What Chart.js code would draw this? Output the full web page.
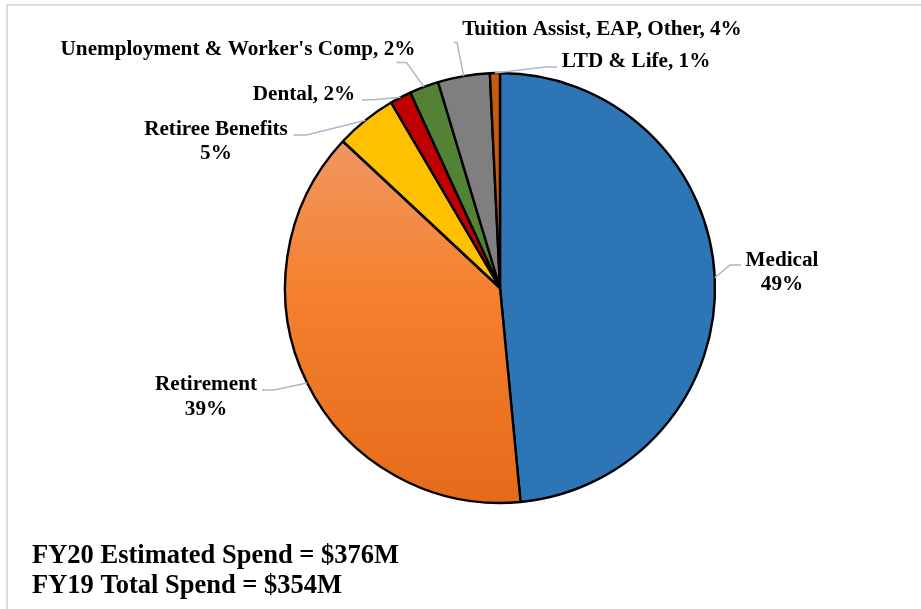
<!DOCTYPE html>
<html>
<head>
<meta charset="utf-8">
<script src="https://cdn.jsdelivr.net/npm/chart.js@4.4.1/dist/chart.umd.min.js"></script>
<style>
  html, body { margin: 0; padding: 0; background: #ffffff; }
  #wrap { position: relative; width: 921px; height: 609px; }
  canvas { display: block; }
</style>
</head>
<body>
<div id="wrap"><canvas id="c" width="921" height="609"></canvas></div>
<script>
// ---- data ----
const categories = ['Medical', 'Retirement', 'Retiree Benefits', 'Dental',
  "Unemployment & Worker's Comp", 'Tuition Assist, EAP, Other', 'LTD & Life'];
const shares = [48.5, 38.5, 4.6, 1.6, 2.2, 3.9, 0.75];
const pctLabels = ['49%', '39%', '5%', '2%', '2%', '4%', '1%'];
const labelStacked = [true, true, true, false, false, false, false];
const footnotes = ['FY20 Estimated Spend = $376M', 'FY19 Total Spend = $354M'];

// ---- styling / layout (not data) ----
const colors = ['#2E75B6', 'RETIREMENT_GRADIENT', '#FFC000', '#C00000', '#548235', '#7F7F7F', '#C55A11'];
const labelLayout = [
  { x: 782, y: 265.5, elbow: [730, 265], end: [741, 265] },
  { x: 206, y: 390, elbow: [274, 390], end: [262, 390] },
  { x: 216, y: 134.5, elbow: [306.5, 135], end: [293.5, 135] },
  { x: 304, y: 100, elbow: [376, 99.5], end: [362, 100] },
  { x: 238, y: 55, elbow: [406.5, 62.5], end: [396.5, 62.5] },
  { x: 602, y: 35, elbow: [457, 42.5], end: [454, 42.5] },
  { x: 636, y: 66.5, elbow: [545, 67], end: [557, 67] }
];
const LABEL_FONT = 'bold 21.2px "Liberation Serif", "Times New Roman", serif';
const FOOT_FONT = 'bold 26.5px "Liberation Serif", "Times New Roman", serif';
const PIE_RADIUS = 215;

function retirementGradient(context) {
  const chart = context.chart;
  const area = chart.chartArea;
  if (!area) return '#F47F2E';
  const cy = (area.top + area.bottom) / 2;
  const g = chart.ctx.createLinearGradient(0, cy - PIE_RADIUS, 0, cy + PIE_RADIUS);
  g.addColorStop(0, '#F2A26F');
  g.addColorStop(0.18, '#F1955E');
  g.addColorStop(0.5, '#F5812F');
  g.addColorStop(1, '#E56B1A');
  return g;
}

const framePlugin = {
  id: 'frame',
  beforeDraw(chart) {
    const ctx = chart.ctx;
    ctx.save();
    ctx.fillStyle = '#ffffff';
    ctx.fillRect(0, 0, chart.width, chart.height);
    ctx.strokeStyle = '#D9DDE3';
    ctx.lineWidth = 2;
    ctx.beginPath();
    ctx.moveTo(7, chart.height);
    ctx.lineTo(7, 5);
    ctx.lineTo(chart.width, 5);
    ctx.stroke();
    ctx.restore();
  }
};

const labelPlugin = {
  id: 'pieLabels',
  afterDatasetsDraw(chart) {
    const ctx = chart.ctx;
    const meta = chart.getDatasetMeta(0);
    ctx.save();
    meta.data.forEach((arc, i) => {
      const L = labelLayout[i];
      const mid = (arc.startAngle + arc.endAngle) / 2;
      const sx = arc.x + Math.cos(mid) * arc.outerRadius;
      const sy = arc.y + Math.sin(mid) * arc.outerRadius;
      ctx.strokeStyle = '#A9B8CB';
      ctx.lineWidth = 1.5;
      ctx.beginPath();
      ctx.moveTo(sx, sy);
      ctx.lineTo(L.elbow[0], L.elbow[1]);
      ctx.lineTo(L.end[0], L.end[1]);
      ctx.stroke();

      ctx.fillStyle = '#000000';
      ctx.font = LABEL_FONT;
      ctx.textAlign = 'center';
      ctx.textBaseline = 'alphabetic';
      if (labelStacked[i]) {
        ctx.fillText(categories[i], L.x, L.y);
        ctx.fillText(pctLabels[i], L.x, L.y + 24.5);
      } else {
        ctx.fillText(categories[i] + ', ' + pctLabels[i], L.x, L.y);
      }
    });
    ctx.font = FOOT_FONT;
    ctx.textAlign = 'left';
    ctx.fillStyle = '#000000';
    footnotes.forEach((t, k) => ctx.fillText(t, 32, 562.5 + k * 30));
    ctx.restore();
  }
};

new Chart(document.getElementById('c'), {
  type: 'pie',
  data: {
    labels: categories,
    datasets: [{
      data: shares,
      backgroundColor: (context) => {
        const c = colors[context.dataIndex];
        return c === 'RETIREMENT_GRADIENT' ? retirementGradient(context) : c;
      },
      borderColor: '#000000',
      borderWidth: 2.4,
      radius: PIE_RADIUS
    }]
  },
  options: {
    responsive: false,
    animation: false,
    events: [],
    layout: { padding: { left: 79, right: 0, top: 0, bottom: 33 } },
    plugins: {
      legend: { display: false },
      tooltip: { enabled: false },
      title: { display: false }
    }
  },
  plugins: [framePlugin, labelPlugin]
});
</script>
</body>
</html>
